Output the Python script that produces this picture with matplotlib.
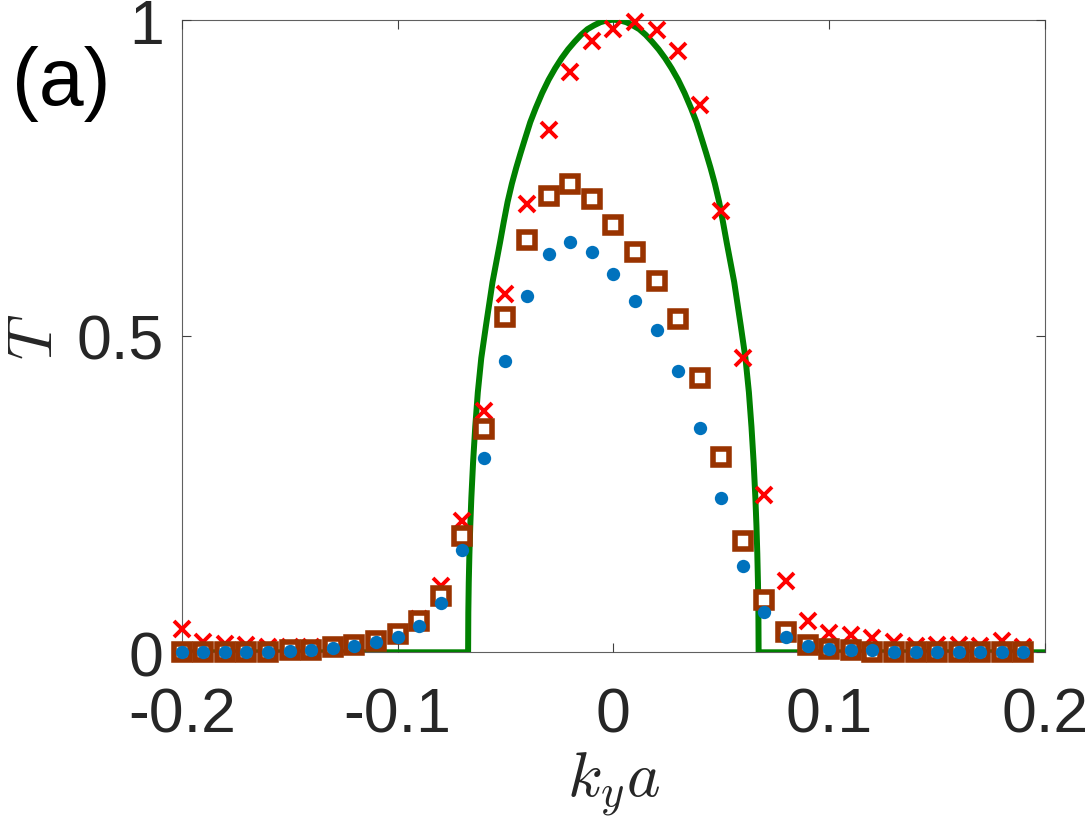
import matplotlib
matplotlib.use("Agg")
import matplotlib.pyplot as plt

plt.rcParams['font.family'] = ['Liberation Sans', 'DejaVu Sans']
plt.rcParams['mathtext.fontset'] = 'cm'
plt.rcParams['axes.unicode_minus'] = False

# ---- data ----
k_pts = [-0.20, -0.19, -0.18, -0.17, -0.16, -0.15, -0.14, -0.13, -0.12, -0.11,
         -0.10, -0.09, -0.08, -0.07, -0.06, -0.05, -0.04, -0.03, -0.02, -0.01,
         0.00, 0.01, 0.02, 0.03, 0.04, 0.05, 0.06, 0.07, 0.08, 0.09,
         0.10, 0.11, 0.12, 0.13, 0.14, 0.15, 0.16, 0.17, 0.18, 0.19]

T_cross = [0.037, 0.016, 0.013, 0.011, 0.009, 0.008, 0.008, 0.009, 0.012, 0.020,
           0.031, 0.052, 0.105, 0.208, 0.382, 0.566, 0.708, 0.826, 0.917, 0.967,
           0.986, 0.997, 0.984, 0.951, 0.865, 0.697, 0.466, 0.249, 0.112, 0.049,
           0.030, 0.027, 0.023, 0.016, 0.010, 0.012, 0.012, 0.010, 0.018, 0.008]

T_square = [0.000, 0.000, 0.000, 0.000, 0.001, 0.003, 0.004, 0.008, 0.012, 0.018,
            0.029, 0.049, 0.089, 0.184, 0.353, 0.530, 0.651, 0.722, 0.741, 0.717,
            0.675, 0.632, 0.587, 0.527, 0.434, 0.308, 0.176, 0.082, 0.032, 0.012,
            0.005, 0.003, 0.001, 0.000, 0.000, 0.000, 0.000, 0.000, 0.000, 0.000]

T_dot = [0.000, 0.000, 0.000, 0.000, 0.001, 0.002, 0.003, 0.006, 0.010, 0.016,
         0.024, 0.041, 0.078, 0.161, 0.307, 0.461, 0.564, 0.629, 0.649, 0.632,
         0.598, 0.555, 0.509, 0.444, 0.355, 0.244, 0.137, 0.063, 0.024, 0.010,
         0.005, 0.003, 0.003, 0.001, 0.000, 0.000, 0.000, 0.000, 0.000, 0.000]

k_line = [-0.2, -0.0673, -0.0672, -0.0670, -0.0667, -0.0663, -0.0658, -0.0650,
          -0.0640, -0.0628, -0.0612, -0.0590, -0.0560, -0.0525, -0.0508, -0.0490,
          -0.0470, -0.0450, -0.0430, -0.0410, -0.0385, -0.0360, -0.0330, -0.0300,
          -0.0270, -0.0240, -0.0210, -0.0180, -0.0150, -0.0120, -0.0090, -0.0060,
          -0.0030, 0.0,
          0.0030, 0.0060, 0.0090, 0.0120, 0.0150, 0.0180, 0.0210, 0.0240,
          0.0270, 0.0300, 0.0330, 0.0360, 0.0385, 0.0410, 0.0430, 0.0450,
          0.0470, 0.0490, 0.0508, 0.0525, 0.0560, 0.0590, 0.0612, 0.0628,
          0.0640, 0.0650, 0.0658, 0.0663, 0.0667, 0.0670, 0.0672, 0.0673, 0.2]
T_line = [0.0, 0.0, 0.063, 0.110, 0.155, 0.200, 0.244, 0.300,
          0.356, 0.411, 0.465, 0.517, 0.585, 0.648, 0.680, 0.712,
          0.741, 0.766, 0.789, 0.811, 0.838, 0.860, 0.884, 0.905,
          0.923, 0.939, 0.953, 0.965, 0.976, 0.985, 0.991, 0.996,
          0.999, 1.0,
          0.999, 0.996, 0.991, 0.985, 0.976, 0.965, 0.953, 0.939,
          0.923, 0.905, 0.884, 0.860, 0.838, 0.811, 0.789, 0.766,
          0.741, 0.712, 0.680, 0.648, 0.585, 0.517, 0.465, 0.411,
          0.356, 0.300, 0.244, 0.200, 0.155, 0.110, 0.063, 0.0, 0.0]

xticks = [-0.2, -0.1, 0, 0.1, 0.2]
xticklabels = ['-0.2', '-0.1', '0', '0.1', '0.2']
yticks = [0, 0.5, 1]
yticklabels = ['0', '0.5', '1']

# ---- figure ----
fig = plt.figure(figsize=(10.88, 8.28), dpi=100)
ax = fig.add_axes([0.1670, 0.2110, 0.7935, 0.7640])

ax.plot(k_line, T_line, color='#008000', lw=4.3, zorder=2,
        solid_joinstyle='round', solid_capstyle='butt')
ax.plot(k_pts, T_cross, ls='none', marker='x', ms=12, mew=2.8, color='#ff0000',
        zorder=3, clip_on=False)
ax.plot(k_pts, T_square, ls='none', marker='s', ms=12, mew=4.0, mfc='white',
        mec='#993300', zorder=4, clip_on=False)
ax.plot(k_pts, T_dot, ls='none', marker='o', ms=9.6, mew=0, color='#0072BD',
        zorder=5, clip_on=False)

ax.set_xlim(-0.2, 0.2)
ax.set_ylim(0, 1)
ax.set_xticks(xticks)
ax.set_xticklabels(xticklabels)
ax.set_yticks(yticks)
ax.set_yticklabels(yticklabels)

for s in ax.spines.values():
    s.set_color('#606060')
    s.set_linewidth(0.8)
    s.set_zorder(1)

ax.tick_params(axis='both', direction='in', top=True, right=True, length=6.5,
               width=0.8, color='#404040', labelsize=45, labelcolor='#262626')
ax.tick_params(axis='x', pad=24)
ax.tick_params(axis='y', pad=13)

ax.set_xlabel(r'$k_y a$', fontsize=46, color='#262626')
ax.set_ylabel(r'$T$', fontsize=45, color='#262626')
ax.xaxis.set_label_coords(0.5, -0.153)
ax.yaxis.set_label_coords(-0.135, 0.5)

fig.text(12 / 1088, 1 - 105 / 828, '(a)', fontsize=58, color='black',
         ha='left', va='baseline')

fig.savefig('out.png', dpi=100, facecolor='white')
